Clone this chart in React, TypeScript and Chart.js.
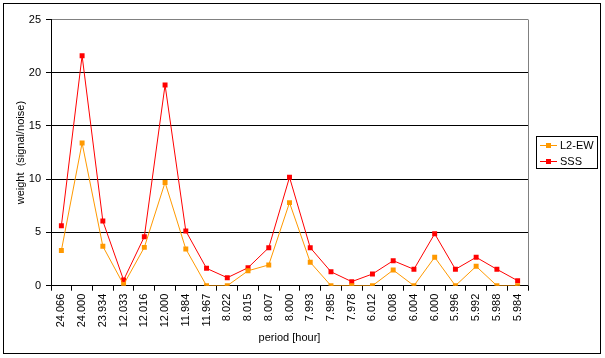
import React, { useEffect, useRef } from "react";
import { Chart, registerables } from "chart.js";

Chart.register(...registerables);

const categories = [
  "24.066", "24.000", "23.934", "12.033", "12.016", "12.000", "11.984", "11.967",
  "8.022", "8.015", "8.007", "8.000", "7.993", "7.985", "7.978", "6.012",
  "6.008", "6.004", "6.000", "5.996", "5.992", "5.988", "5.984",
];

const l2ew = [
  3.3, 13.4, 3.7, 0.1, 3.6, 9.7, 3.45, 0.0, 0.0, 1.4, 1.95, 7.8,
  2.2, 0.0, 0.0, 0.0, 1.47, 0.0, 2.67, 0.0, 1.82, 0.0, 0.0,
];

const sss = [
  5.63, 21.6, 6.07, 0.53, 4.6, 18.85, 5.14, 1.63, 0.75, 1.69, 3.57, 10.18,
  3.57, 1.31, 0.38, 1.1, 2.35, 1.54, 4.88, 1.54, 2.67, 1.54, 0.47,
];

const seriesNames = ["L2-EW", "SSS"];
const seriesColors = ["#FF9900", "#FF0000"];
const yTicksMax = 25;
const yStep = 5;

const FONT = "'Liberation Sans', Arial, sans-serif";

const decorPlugin = {
  id: "decor",
  afterDraw(chart: any) {
    const ctx = chart.ctx;
    const a = chart.chartArea;
    ctx.save();
    ctx.strokeStyle = "#808080";
    ctx.lineWidth = 1;
    ctx.beginPath();
    ctx.moveTo(Math.round(a.right) + 0.5, a.top);
    ctx.lineTo(Math.round(a.right) + 0.5, a.bottom);
    ctx.stroke();
    ctx.strokeStyle = "#000";
    ctx.strokeRect(3.5, 3.5, 597, 350);
    const bx = 536.5, by = 136.5, bw = 61, bh = 32;
    ctx.strokeRect(bx, by, bw, bh);
    const ds = chart.data.datasets;
    const rows = [145.5, 161.5];
    ds.forEach((d: any, i: number) => {
      const y = rows[i];
      ctx.strokeStyle = d.borderColor;
      ctx.lineWidth = 1;
      ctx.beginPath();
      ctx.moveTo(540, y);
      ctx.lineTo(557, y);
      ctx.stroke();
      ctx.fillStyle = d.borderColor;
      ctx.fillRect(546, y - 2.5, 5, 5);
      ctx.fillStyle = "#000";
      ctx.font = "11px " + FONT;
      ctx.textBaseline = "middle";
      ctx.textAlign = "left";
      ctx.fillText(d.label, 560, y);
    });
    ctx.restore();
  },
};

export default function App() {
  const ref = useRef<HTMLCanvasElement | null>(null);
  useEffect(() => {
    if (!ref.current) return;
    Chart.defaults.font.family = FONT;
    Chart.defaults.font.size = 11;
    Chart.defaults.color = "#000";
    const chart = new Chart(ref.current, {
      type: "line",
      data: {
        labels: categories,
        datasets: [
          {
            label: seriesNames[0],
            data: l2ew,
            borderColor: seriesColors[0],
            backgroundColor: seriesColors[0],
            borderWidth: 1,
            pointStyle: "rect",
            pointRadius: 3.5,
            pointBorderWidth: 0,
            tension: 0,
          },
          {
            label: seriesNames[1],
            data: sss,
            borderColor: seriesColors[1],
            backgroundColor: seriesColors[1],
            borderWidth: 1,
            pointStyle: "rect",
            pointRadius: 3.5,
            pointBorderWidth: 0,
            tension: 0,
          },
        ],
      },
      options: {
        responsive: false,
        animation: false,
        layout: { padding: { top: 19.5, right: 77, left: 0, bottom: 0 } },
        plugins: { legend: { display: false }, tooltip: { enabled: false } },
        scales: {
          x: {
            type: "category",
            offset: true,
            grid: {
              offset: true,
              drawOnChartArea: false,
              color: "#000",
              tickColor: "#000",
              tickLength: 5,
            },
            border: { color: "#000", width: 1 },
            ticks: {
              minRotation: 90,
              maxRotation: 90,
              autoSkip: false,
              padding: 3,
              font: { size: 11, family: FONT },
              color: "#000",
            },
            title: {
              display: true,
              text: "period [hour]",
              font: { size: 11, family: FONT },
              color: "#000",
              padding: { top: 0, bottom: 13 },
            },
            afterFit(scale: any) {
              scale.height = 358 - 285.7;
            },
          },
          y: {
            min: 0,
            max: yTicksMax,
            ticks: {
              stepSize: yStep,
              padding: 5,
              font: { size: 11, family: FONT },
              color: "#000",
            },
            grid: {
              color: (c: any) => (c.tick && c.tick.value === yTicksMax ? "#808080" : "#000"),
              tickColor: "#000",
              tickLength: 5,
            },
            border: { color: "#000", width: 1 },
            title: {
              display: true,
              text: "weight  (signal/noise)",
              font: { size: 11, family: FONT },
              color: "#000",
              padding: { top: 14, bottom: 0 },
            },
            afterFit(scale: any) {
              scale.width = 51;
            },
          },
        },
      },
      plugins: [decorPlugin],
    } as any);
    return () => chart.destroy();
  }, []);
  return (
    <div style={{ position: "fixed", left: 0, top: 0, width: 605, height: 358, background: "#fff" }}>
      <canvas ref={ref} width={605} height={358} style={{ display: "block" }} />
    </div>
  );
}
